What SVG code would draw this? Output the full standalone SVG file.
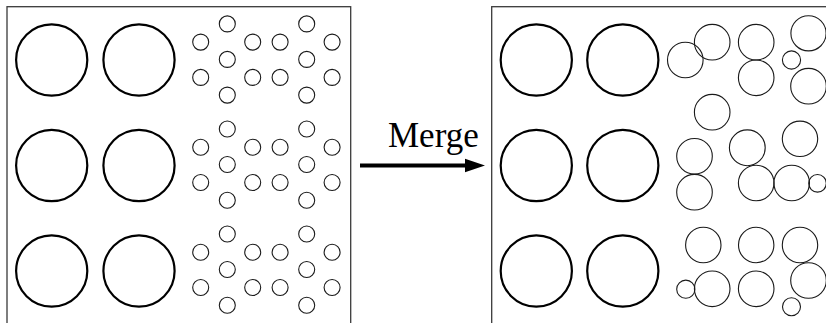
<svg xmlns="http://www.w3.org/2000/svg" width="826" height="323" viewBox="0 0 826 323">
<defs>
<style>
.box{fill:none;stroke:#3a3a3a;stroke-width:1.3}
.big{fill:none;stroke:#000;stroke-width:2.2}
.sm{fill:none;stroke:#1a1a1a;stroke-width:1.1}
.lbl{font-family:"Liberation Serif","Times New Roman",serif;font-size:35px;fill:#000}
</style>
<g id="sgroup">
<circle class="sm" cx="0" cy="-35.5" r="8"/>
<circle class="sm" cx="-26.6" cy="-17.3" r="8"/>
<circle class="sm" cx="25.4" cy="-17.3" r="8"/>
<circle class="sm" cx="0" cy="0" r="8"/>
<circle class="sm" cx="-26.6" cy="18" r="8"/>
<circle class="sm" cx="25.4" cy="18" r="8"/>
<circle class="sm" cx="0" cy="35.7" r="8"/>
</g>
</defs>
<rect width="826" height="323" fill="#fff"/>
<g id="before">
<rect class="box" x="7" y="6.7" width="343.7" height="340"/>
<g id="before-row1">
<circle class="big" cx="51.7" cy="60" r="35.6"/>
<circle class="big" cx="139" cy="60" r="35.6"/>
<use href="#sgroup" x="227.3" y="59.4"/>
<use href="#sgroup" x="306.7" y="59.4"/>
</g>
<g id="before-row2">
<circle class="big" cx="51.7" cy="165.5" r="35.6"/>
<circle class="big" cx="139" cy="165.5" r="35.6"/>
<use href="#sgroup" x="227.3" y="164.5"/>
<use href="#sgroup" x="306.7" y="164.5"/>
</g>
<g id="before-row3">
<circle class="big" cx="51.7" cy="271" r="35.6"/>
<circle class="big" cx="139" cy="271" r="35.6"/>
<use href="#sgroup" x="227.3" y="269.5"/>
<use href="#sgroup" x="306.7" y="269.5"/>
</g>
</g>
<g id="connectors">
<line x1="360" y1="165.5" x2="468" y2="165.5" stroke="#000" stroke-width="4"/>
<polygon points="485,165.5 465,158.8 465,172.2" fill="#000"/>
<text class="lbl" x="388" y="146.7">Merge</text>
</g>
<g id="after">
<rect class="box" x="491.7" y="6.7" width="343.7" height="340"/>
<circle class="big" cx="536.3" cy="60" r="35.6"/>
<circle class="big" cx="622.8" cy="60" r="35.6"/>
<circle class="big" cx="536.3" cy="165.5" r="35.6"/>
<circle class="big" cx="622.8" cy="165.5" r="35.6"/>
<circle class="big" cx="536.3" cy="271" r="35.6"/>
<circle class="big" cx="622.8" cy="271" r="35.6"/>
<circle class="sm" cx="685.3" cy="60" r="17.8"/>
<circle class="sm" cx="712.2" cy="42.2" r="17.8"/>
<circle class="sm" cx="756.2" cy="42.2" r="17.8"/>
<circle class="sm" cx="756.2" cy="77.8" r="17.8"/>
<circle class="sm" cx="808.5" cy="33.3" r="17.6"/>
<circle class="sm" cx="791.5" cy="60" r="9.1"/>
<circle class="sm" cx="808.5" cy="86.2" r="17.8"/>
<circle class="sm" cx="712.2" cy="112.2" r="17.8"/>
<circle class="sm" cx="694.5" cy="156.3" r="17.8"/>
<circle class="sm" cx="694.5" cy="192.2" r="17.8"/>
<circle class="sm" cx="747.3" cy="147.8" r="17.9"/>
<circle class="sm" cx="800" cy="138.8" r="17.7"/>
<circle class="sm" cx="756.2" cy="183" r="17.8"/>
<circle class="sm" cx="791.7" cy="183" r="17.8"/>
<circle class="sm" cx="817.5" cy="183.3" r="8.8"/>
<circle class="sm" cx="703.3" cy="245" r="17.7"/>
<circle class="sm" cx="756.2" cy="245" r="17.7"/>
<circle class="sm" cx="800" cy="245" r="17.7"/>
<circle class="sm" cx="712.2" cy="288.8" r="17.8"/>
<circle class="sm" cx="685.8" cy="289.2" r="9.1"/>
<circle class="sm" cx="756.2" cy="288.8" r="17.8"/>
<circle class="sm" cx="808.5" cy="280.5" r="17.8"/>
<circle class="sm" cx="791.5" cy="306.7" r="9"/>
</g>
</svg>
